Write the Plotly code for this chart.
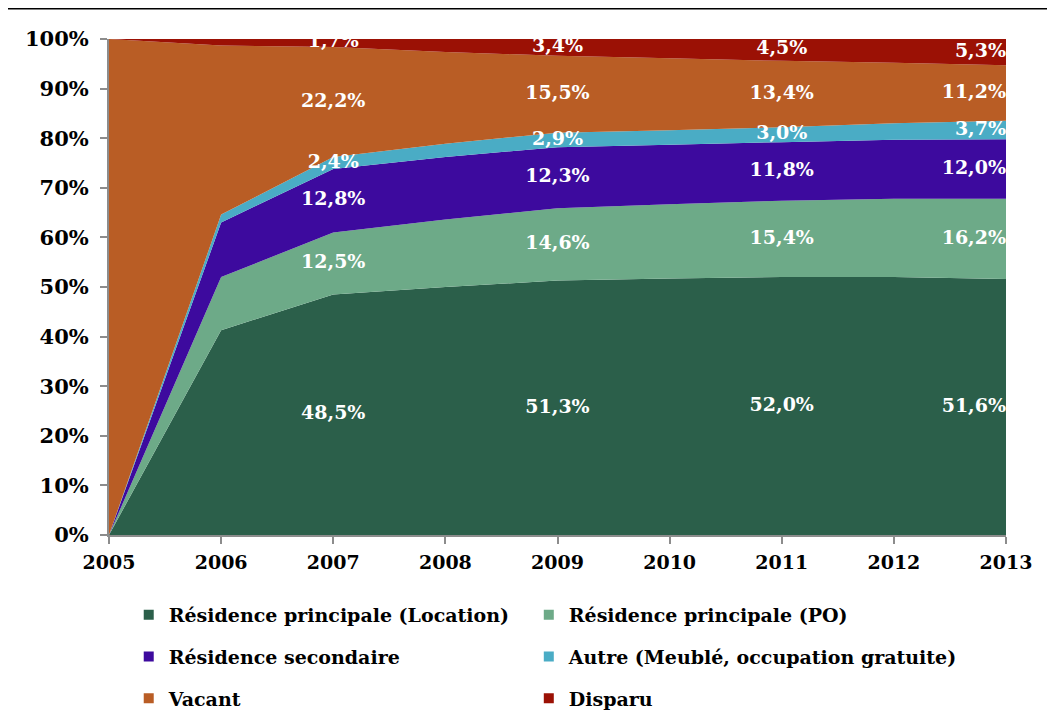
import plotly.graph_objects as go

# Data
years = [2005, 2006, 2007, 2008, 2009, 2010, 2011, 2012, 2013]
location = [0.0, 41.3, 48.5, 50.0, 51.3, 51.7, 52.0, 52.0, 51.6]
po = [0.0, 10.7, 12.5, 13.6, 14.6, 15.0, 15.4, 15.8, 16.2]
secondaire = [0.0, 11.0, 12.8, 12.6, 12.3, 12.0, 11.8, 11.9, 12.0]
autre = [0.0, 1.6, 2.4, 2.7, 2.9, 2.9, 3.0, 3.3, 3.7]
vacant = [100.0, 34.1, 22.2, 18.5, 15.5, 14.5, 13.4, 12.2, 11.2]
disparu = [0.0, 1.3, 1.7, 2.6, 3.4, 3.9, 4.5, 4.9, 5.3]

names = ['Résidence principale (Location)', 'Résidence principale (PO)',
         'Résidence secondaire', 'Autre (Meublé, occupation gratuite)',
         'Vacant', 'Disparu']
colors = ['#2b5f4a', '#6daa88', '#3d0a9e', '#4aacc5', '#b95d25', '#9b1105']
label_years = [2007, 2009, 2011, 2013]
pct_ticks = [0, 10, 20, 30, 40, 50, 60, 70, 80, 90, 100]

series = [location, po, secondaire, autre, vacant, disparu]

FONT = 'DejaVu Serif'
fig = go.Figure()

# stacked areas
for s, n, c in zip(series, names, colors):
      fig.add_trace(go.Scatter(x=years, y=s, name=n, stackgroup='one',
                               mode='none', fillcolor=c, showlegend=False,
                               hoverinfo='skip'))

# data labels at the middle of each band
bottom = [0.0] * len(years)
for s in series:
      lx, ly, lt = [], [], []
      for i, yr in enumerate(years):
            if yr in label_years:
                  lx.append(yr)
                  ly.append(bottom[i] + s[i] / 2)
                  lt.append('{:.1f}%'.format(s[i]).replace('.', ','))
      pos = ['middle center' if x != 2013 else 'middle left' for x in lx]
      fig.add_trace(go.Scatter(x=lx, y=ly, text=lt, mode='text',
                               textposition=pos, cliponaxis=True,
                               textfont=dict(family=FONT, size=19,
                                             color='white', weight='bold'),
                               showlegend=False, hoverinfo='skip'))
      bottom = [b + v for b, v in zip(bottom, s)]

# legend: two columns (left column = legend, right column = legend2)
legend_ids = ['legend', 'legend2', 'legend', 'legend2', 'legend', 'legend2']
for n, c, lg in zip(names, colors, legend_ids):
      fig.add_trace(go.Scatter(x=[None], y=[None], mode='markers', name=n,
                               legendgroup=n, legend=lg,
                               marker=dict(symbol='square', size=10, color=c)))

legend_style = dict(orientation='v', xanchor='left', yanchor='top', y=-0.123,
                    traceorder='grouped', tracegroupgap=14,
                    font=dict(family=FONT, size=19, color='black', weight='bold'),
                    bgcolor='rgba(0,0,0,0)')

fig.update_layout(
      width=1039, height=711,
      margin=dict(l=101, r=41, t=31, b=184, autoexpand=False),
      plot_bgcolor='white', paper_bgcolor='white',
      legend=dict(x=0.022, **legend_style),
      legend2=dict(x=0.468, **legend_style),
)

fig.update_xaxes(range=[2005, 2013], tickvals=years, showgrid=False,
                 zeroline=False, showline=True, linecolor='#8c8c8c',
                 linewidth=2, ticks='outside', tickcolor='#8c8c8c',
                 ticklen=7, tickwidth=2, automargin=False,
                 ticklabelstandoff=2,
                 tickfont=dict(family=FONT, size=19, color='black', weight='bold'))
fig.update_yaxes(range=[0, 100], tickvals=pct_ticks,
                 ticktext=['{}%'.format(v) for v in pct_ticks],
                 showgrid=False, zeroline=False,
                 showline=True, linecolor='#8c8c8c', linewidth=2,
                 ticks='outside', tickcolor='#8c8c8c', ticklen=7, tickwidth=2,
                 automargin=False, ticklabelstandoff=7,
                 tickfont=dict(family=FONT, size=21, color='black', weight='bold'))

# black rule above the chart
fig.add_shape(type='line', xref='paper', yref='paper',
              x0=-0.1126, x1=1.06, y0=1.0625, y1=1.0625,
              line=dict(color='black', width=3))

fig.write_html("out.html")
